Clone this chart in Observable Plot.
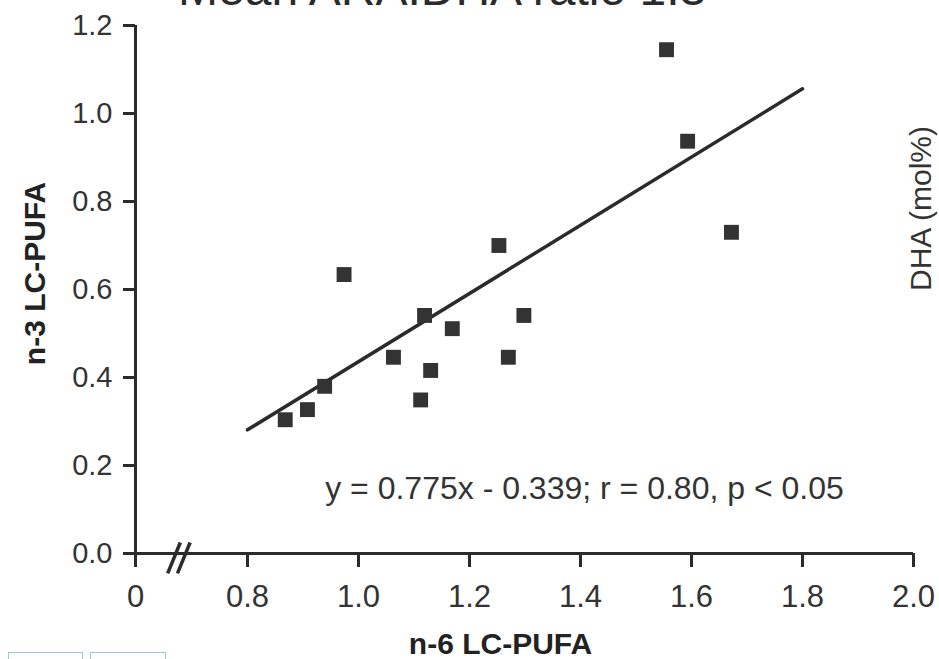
<!DOCTYPE html>
<html>
<head>
<meta charset="utf-8">
<script src="https://cdn.jsdelivr.net/npm/d3@7"></script>
<script src="https://cdn.jsdelivr.net/npm/@observablehq/plot@0.6"></script>
<style>
  body { margin: 0; background: #fff; font-family: "Liberation Sans", Arial, sans-serif; }
  #wrap { position: relative; width: 939px; height: 659px; overflow: hidden; }
  #title { position: absolute; left: 178px; top: -35px; font-size: 48px; line-height: 48px; color: #2b2b2b; white-space: nowrap; }
  .box { position: absolute; top: 652px; height: 20px; border: 1px solid #9cc9c4; }
</style>
</head>
<body>
<div id="wrap">
  <div id="chart"></div>
  <div id="title">Mean ARA:DHA ratio 1.3</div>
  <div class="box" style="left:8px;width:73px"></div>
  <div class="box" style="left:90px;width:74px"></div>
</div>
<script>
// n-6 LC-PUFA (x) and n-3 LC-PUFA (y) values
const n6 = [0.868, 0.908, 0.939, 0.974, 1.063, 1.112, 1.119, 1.130, 1.169, 1.253, 1.270, 1.298, 1.555, 1.593, 1.672];
const n3 = [0.304, 0.327, 0.380, 0.634, 0.446, 0.349, 0.541, 0.416, 0.511, 0.700, 0.446, 0.541, 1.145, 0.937, 0.730];

// regression: y = 0.775x - 0.339, drawn from x = 0.8 to 1.8
const slope = 0.775;
const intercept = -0.339;
const fitRange = [0.8, 1.8];

const xTicks = [0, 0.8, 1.0, 1.2, 1.4, 1.6, 1.8, 2.0];
const xTickLabels = ["0", "0.8", "1.0", "1.2", "1.4", "1.6", "1.8", "2.0"];
const yTicks = [0, 0.2, 0.4, 0.6, 0.8, 1.0, 1.2];
const yTickLabels = ["0.0", "0.2", "0.4", "0.6", "0.8", "1.0", "1.2"];

const xLabel = "n-6 LC-PUFA";
const yLabel = "n-3 LC-PUFA";
const rightLabel = "DHA (mol%)";
const equation = "y = 0.775x - 0.339; r = 0.80, p < 0.05";
const breakAt = 0.31;

const points = n6.map((x, i) => ({x, y: n3[i]}));
const fit = fitRange.map(x => ({x, y: slope * x + intercept}));
const xLab = new Map(xTicks.map((t, i) => [t, xTickLabels[i]]));
const yLab = new Map(yTicks.map((t, i) => [t, yTickLabels[i]]));
const breaks = [-0.035, 0.035].map(o => ({x1: breakAt + o - 0.045, y1: -0.045, x2: breakAt + o + 0.045, y2: 0.025}));

const ink = "#2b2b2b";
const chart = Plot.plot({
  width: 939,
  height: 659,
  marginLeft: 135,
  marginRight: 26,
  marginTop: 25,
  marginBottom: 106,
  style: {fontFamily: "'Liberation Sans', Arial, sans-serif", fontSize: "30px", color: "#333", background: "#fff"},
  x: {type: "linear", domain: [0, 0.8, 2.0], range: [135, 247, 913]},
  y: {domain: [0, 1.2]},
  marks: [
    Plot.ruleY([0], {stroke: ink, strokeWidth: 3}),
    Plot.ruleX([0], {stroke: ink, strokeWidth: 3}),
    Plot.axisY({ticks: yTicks, tickFormat: d => yLab.get(d), tickSize: 12, tickPadding: 11, strokeWidth: 3, stroke: ink, fontSize: 29, fill: "#333", label: null}),
    Plot.axisX({ticks: xTicks, tickFormat: d => xLab.get(d), tickSize: 14, tickPadding: 17, strokeWidth: 3, stroke: ink, fontSize: 31, fill: "#333", label: null}),
    Plot.link(breaks, {x1: "x1", y1: "y1", x2: "x2", y2: "y2", stroke: ink, strokeWidth: 3.5, clip: false}),
    Plot.line(fit, {x: "x", y: "y", stroke: ink, strokeWidth: 3.5}),
    Plot.dot(points, {x: "x", y: "y", symbol: "square", r: 8.4, fill: "#333", stroke: "none"}),
    Plot.text([equation], {x: 0.94, y: 0.125, textAnchor: "start", lineAnchor: "bottom", fontSize: 32, fill: "#333"}),
    Plot.text([yLabel], {frameAnchor: "left", textAnchor: "middle", dx: -100, dy: -16, rotate: -90, fontSize: 30, fontWeight: "bold", fill: "#222"}),
    Plot.text([xLabel], {frameAnchor: "bottom", textAnchor: "middle", dx: -24, dy: 100, lineAnchor: "bottom", fontSize: 30, fontWeight: "bold", fill: "#222"}),
    Plot.text([rightLabel], {frameAnchor: "right", textAnchor: "middle", dx: 8, dy: -81, rotate: -90, fontSize: 30, fill: "#333"})
  ]
});
document.getElementById("chart").appendChild(chart);
</script>
</body>
</html>
